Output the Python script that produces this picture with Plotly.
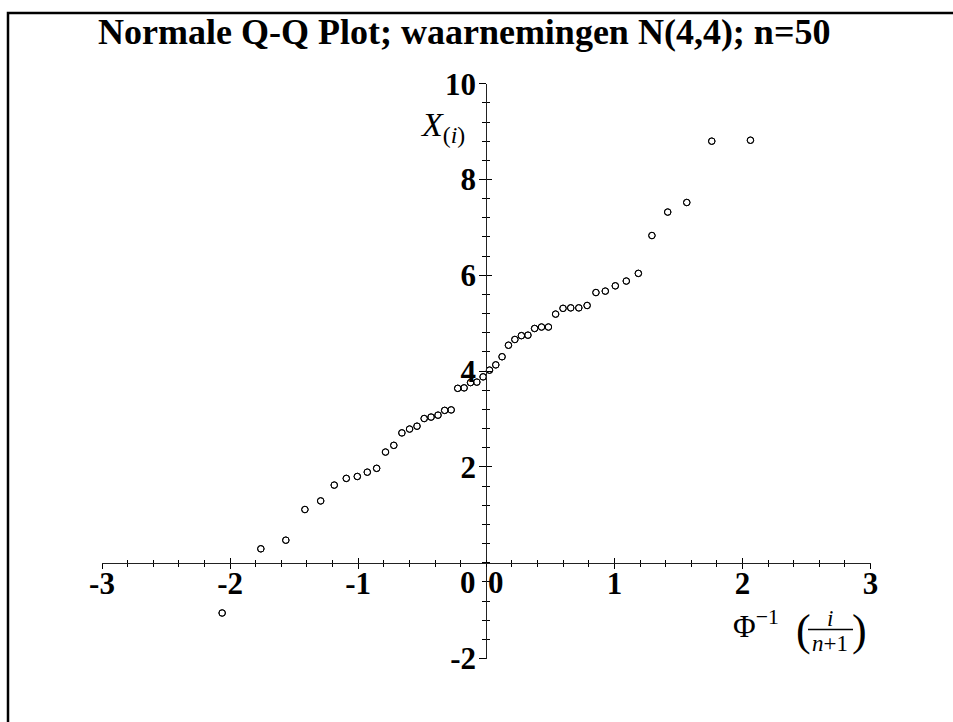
import plotly.graph_objects as go

W, H = 953, 722

# theoretical quantiles Phi^-1(i/(n+1)), n = 50
theo_q = [-2.062, -1.760, -1.565, -1.416, -1.293, -1.187, -1.093, -1.007, -0.929, -0.856,
          -0.787, -0.722, -0.659, -0.599, -0.541, -0.485, -0.431, -0.377, -0.325, -0.274,
          -0.223, -0.173, -0.123, -0.074, -0.025, 0.025, 0.074, 0.123, 0.173, 0.223,
          0.274, 0.325, 0.377, 0.431, 0.485, 0.541, 0.599, 0.659, 0.722, 0.787,
          0.856, 0.929, 1.007, 1.093, 1.187, 1.293, 1.416, 1.565, 1.760, 2.062]

# ordered observations X_(i)
obs = [-1.05, 0.29, 0.47, 1.11, 1.29, 1.62, 1.76, 1.80, 1.89, 1.97,
       2.31, 2.45, 2.71, 2.79, 2.85, 3.01, 3.04, 3.08, 3.18, 3.19,
       3.64, 3.65, 3.76, 3.77, 3.88, 4.02, 4.13, 4.30, 4.54, 4.66,
       4.74, 4.75, 4.89, 4.92, 4.92, 5.19, 5.31, 5.32, 5.32, 5.37,
       5.64, 5.67, 5.78, 5.88, 6.04, 6.83, 7.32, 7.52, 8.80, 8.82]

x_ticks = [-3, -2, -1, 1, 2, 3]
x_ticklabels = ["-3", "-2", "-1", "1", "2", "3"]
y_ticks = [-2, 2, 4, 6, 8, 10]
y_ticklabels = ["-2", "2", "4", "6", "8", "10"]

title_text = "Normale Q-Q Plot; waarnemingen N(4,4); n=50"

SERIF = "Liberation Serif, Times New Roman, serif"

def px(x):
    return x / W

def py(y):
    return 1 - y / H

xdom = [px(102.0), px(870.6)]
ydom = [py(658.5), py(83.7)]
x_axis_pos = py(562.7)
y_axis_pos = px(486.3)

fig = go.Figure()
marker = dict(symbol="circle-open", size=6.5, color="black", line=dict(width=1, color="black"))
fig.add_trace(go.Scatter(x=theo_q, y=obs, mode="markers", marker=marker,
                         cliponaxis=False, showlegend=False, hoverinfo="x+y"))
fig.add_trace(go.Scatter(x=theo_q, y=obs, mode="markers", marker=marker,
                         xaxis="x2", yaxis="y2", cliponaxis=False,
                         showlegend=False, hoverinfo="skip"))

tickfont = dict(family=SERIF, size=31, color="black", weight="bold")

common_x = dict(range=[-3, 3], domain=xdom, anchor="free", position=x_axis_pos,
                automargin=False, fixedrange=True,
                showgrid=False, zeroline=False, tickcolor="black", tickwidth=1)
common_y = dict(range=[-2, 10], domain=ydom, anchor="free", position=y_axis_pos,
                automargin=False, fixedrange=True,
                showgrid=False, zeroline=False, tickcolor="black", tickwidth=1)

fig.update_layout(
    width=W, height=H, autosize=False,
    margin=dict(l=0, r=0, t=0, b=0, pad=0, autoexpand=False),
    paper_bgcolor="white", plot_bgcolor="white",
    xaxis=dict(**common_x, showline=True, linecolor="#222", linewidth=1,
               tickmode="array", tickvals=x_ticks, ticktext=x_ticklabels,
               ticks="outside", ticklen=5, tickfont=tickfont, ticklabelstandoff=-12,
               minor=dict(tickmode="linear", tick0=0, dtick=0.2, ticks="outside",
                          ticklen=3, tickcolor="black", tickwidth=1)),
    xaxis2=dict(**common_x, overlaying="x", showline=False, showticklabels=False,
                tickmode="array", tickvals=x_ticks, ticks="inside", ticklen=5,
                minor=dict(tickmode="linear", tick0=0, dtick=0.2, ticks="inside",
                           ticklen=3, tickcolor="black", tickwidth=1)),
    yaxis=dict(**common_y, showline=True, linecolor="#222", linewidth=1,
               tickmode="array", tickvals=y_ticks, ticktext=y_ticklabels,
               ticks="outside", ticklen=7, tickfont=tickfont, ticklabelstandoff=-3,
               minor=dict(tickmode="linear", tick0=0, dtick=0.4, ticks="outside",
                          ticklen=4, tickcolor="black", tickwidth=1)),
    yaxis2=dict(**common_y, overlaying="y", showline=False, showticklabels=False,
                tickmode="array", tickvals=y_ticks, ticks="inside", ticklen=5,
                minor=dict(tickmode="linear", tick0=0, dtick=0.4, ticks="inside",
                           ticklen=3, tickcolor="black", tickwidth=1)),
)

# frame (left and top edges)
fig.add_shape(type="path", xref="paper", yref="paper",
              path=f"M {px(8)} {py(722)} L {px(8)} {py(13)} L {px(953)} {py(13)}",
              line=dict(color="black", width=2.5))

ann = []
ann.append(dict(text=title_text, x=px(464), y=py(32), xref="paper", yref="paper",
                xanchor="center", yanchor="middle", showarrow=False,
                font=dict(family=SERIF, size=36, color="black", weight="bold")))
# zero labels
zf = dict(family=SERIF, size=31, color="black", weight="bold")
ann.append(dict(text="0", x=px(478), y=py(582), xref="paper", yref="paper",
                xanchor="right", yanchor="middle", showarrow=False, font=zf))
ann.append(dict(text="0", x=px(486), y=py(582), xref="paper", yref="paper",
                xanchor="left", yanchor="middle", showarrow=False, font=zf))
# y-axis label
ann.append(dict(text="<i>X</i><sub>(<i>i</i>)</sub>", x=px(467), y=py(127),
                xref="paper", yref="paper", xanchor="right", yanchor="middle",
                showarrow=False, font=dict(family=SERIF, size=34, color="black")))
# x-axis label: Phi^-1 ( i / (n+1) )
ann.append(dict(text="Φ<sup>−1</sup>", x=px(731), y=py(624), xref="paper", yref="paper",
                xanchor="left", yanchor="middle", showarrow=False,
                font=dict(family=SERIF, size=31, color="black")))
ann.append(dict(text="(", x=px(803), y=py(630), xref="paper", yref="paper",
                xanchor="center", yanchor="middle", showarrow=False,
                font=dict(family=SERIF, size=44, color="black")))
ann.append(dict(text=")", x=px(859), y=py(630), xref="paper", yref="paper",
                xanchor="center", yanchor="middle", showarrow=False,
                font=dict(family=SERIF, size=44, color="black")))
ann.append(dict(text="<i>i</i>", x=px(830), y=py(618), xref="paper", yref="paper",
                xanchor="center", yanchor="middle", showarrow=False,
                font=dict(family=SERIF, size=23, color="black")))
ann.append(dict(text="<i>n</i>+1", x=px(830), y=py(643), xref="paper", yref="paper",
                xanchor="center", yanchor="middle", showarrow=False,
                font=dict(family=SERIF, size=23, color="black")))
fig.update_layout(annotations=ann)
fig.add_shape(type="line", xref="paper", yref="paper",
              x0=px(808), x1=px(853), y0=py(629.5), y1=py(629.5),
              line=dict(color="black", width=1.5))

fig.write_html("out.html")
